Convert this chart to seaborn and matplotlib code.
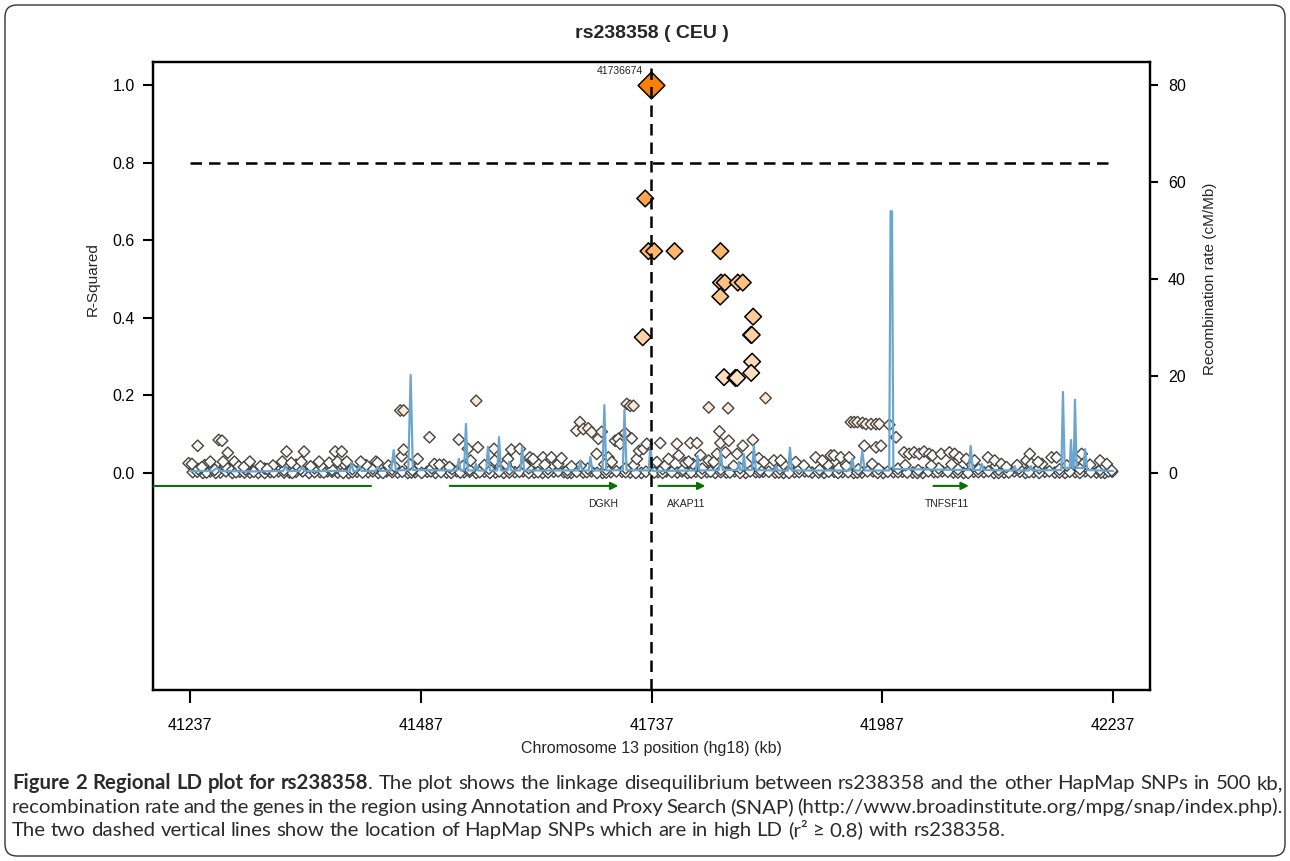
import matplotlib
matplotlib.use("Agg")
import matplotlib.pyplot as plt
import seaborn as sns
from matplotlib.colors import LinearSegmentedColormap
from matplotlib.patches import FancyBboxPatch

# ----------------------------- #
#  Data
# ----------------------------- #
lead_snp = "41736674"
lead_pos = 41736.674
lead_r2 = 1.0

# SNPs in LD with the lead SNP (r2 >= 0.2)
ld_pos = [41730.2, 41733.7, 41739.9, 41762.0, 41811.7, 41812.3, 41816.4, 41830.5,
          41835.9, 41811.5, 41847.1, 41844.8, 41845.6, 41727.5, 41846.0, 41845.0,
          41815.6, 41827.9, 41829.7]
ld_r2 = [0.708, 0.572, 0.572, 0.572, 0.572, 0.491, 0.491, 0.491,
         0.491, 0.455, 0.403, 0.356, 0.356, 0.350, 0.287, 0.258,
         0.247, 0.245, 0.245]

# scattered low-LD SNPs
snp_pos = [41235.6, 41239.2, 41245.4, 41250.0, 41259.1, 41268.2, 41271.8, 41272.9, 41278.0, 41285.2,
           41289.9, 41295.4, 41301.9, 41313.4, 41320.7, 41337.0, 41341.7, 41346.8, 41357.7, 41360.6,
           41367.8, 41376.9, 41387.8, 41394.3, 41396.8, 41401.5, 41406.9, 41422.1, 41438.4, 41440.3,
           41458.4,
           41464.9, 41468.5, 41466.4, 41468.5, 41483.7, 41496.5, 41501.9, 41507.3, 41518.2, 41528.3,
           41538.1, 41541.0, 41547.1, 41549.0, 41566.4, 41567.1, 41581.6, 41585.2, 41594.3, 41605.2,
           41608.7, 41619.6, 41621.5, 41628.6, 41635.9, 41639.5, 41650.4, 41655.8, 41659.5, 41663.1,
           41668.5, 41672.1, 41677.6, 41679.4, 41683.0, 41690.3, 41693.9, 41697.6, 41701.1, 41703.0,
           41708.4, 41710.2, 41713.9, 41717.5, 41715.6, 41721.1, 41723.6, 41728.3, 41731.9,
           41742.8, 41746.5, 41755.5, 41764.5, 41766.4, 41773.7, 41777.2, 41779.1, 41786.3, 41790.0,
           41799.0, 41799.0, 41804.4, 41808.0, 41810.6, 41811.7, 41817.1, 41820.0, 41820.7, 41829.7,
           41835.9, 41846.0, 41846.8, 41853.3, 41858.8, 41860.6, 41869.6, 41876.9, 41893.2, 41914.9,
           41922.1, 41931.3, 41934.8, 41942.1, 41951.1, 41953.0, 41956.6, 41960.2, 41965.6, 41967.5,
           41969.3, 41974.8, 41980.2, 41980.2, 41983.8, 41985.6, 41994.6, 42001.9,
           42010.6, 42016.0, 42021.5, 42026.9, 42032.3, 42037.8, 42041.4, 42050.8, 42059.8, 42065.3,
           42070.7, 42078.0, 42087.0, 42101.5, 42108.8, 42116.0, 42121.5, 42143.2, 42146.8, 42148.7,
           42155.8, 42170.4, 42175.8, 42199.3, 42203.0, 42222.9, 42230.2, 42235.6]
snp_r2 = [0.025, 0.023, 0.070, 0.015, 0.029, 0.085, 0.083, 0.029, 0.052, 0.029,
          0.017, 0.015, 0.029, 0.017, 0.010, 0.029, 0.055, 0.026, 0.029, 0.055,
          0.017, 0.029, 0.026, 0.055, 0.029, 0.055, 0.029, 0.029, 0.029, 0.026,
          0.017,
          0.161, 0.161, 0.043, 0.060, 0.036, 0.092, 0.023, 0.021, 0.015, 0.086,
          0.062, 0.032, 0.186, 0.066, 0.062, 0.032, 0.036, 0.060, 0.062, 0.040,
          0.036, 0.040, 0.021, 0.040, 0.023, 0.038, 0.017, 0.109, 0.131, 0.113,
          0.115, 0.105, 0.049, 0.088, 0.106, 0.040, 0.028, 0.083, 0.088, 0.075,
          0.103, 0.178, 0.173, 0.173, 0.089, 0.036, 0.057, 0.062, 0.075,
          0.028, 0.077, 0.036, 0.075, 0.045, 0.026, 0.029, 0.077, 0.077, 0.046,
          0.169, 0.032, 0.028, 0.049, 0.107, 0.077, 0.053, 0.167, 0.083, 0.049,
          0.070, 0.040, 0.085, 0.038, 0.028, 0.193, 0.032, 0.032, 0.028, 0.040,
          0.032, 0.045, 0.045, 0.040, 0.040, 0.131, 0.131, 0.131, 0.129, 0.070,
          0.126, 0.126, 0.126, 0.066, 0.126, 0.070, 0.124, 0.092,
          0.053, 0.049, 0.053, 0.049, 0.055, 0.049, 0.045, 0.049, 0.053, 0.049,
          0.040, 0.036, 0.032, 0.040, 0.032, 0.023, 0.015, 0.032, 0.049, 0.023,
          0.028, 0.040, 0.040, 0.040, 0.049, 0.032, 0.023, 0.006]

# dense rows of SNPs close to r2 = 0
base_pos = [41240, 41251, 41259, 41270, 41283, 41291, 41302, 41311, 41324, 41333,
            41345, 41352, 41366, 41378, 41386, 41397, 41409, 41418, 41430, 41441,
            41450, 41462, 41473, 41481, 41494, 41503, 41515, 41526, 41534, 41547,
            41556, 41568, 41577, 41589, 41598, 41610, 41619, 41631, 41642, 41650,
            41663, 41672, 41684, 41693, 41705, 41714, 41726, 41744, 41753, 41765,
            41776, 41785, 41797, 41806, 41818, 41827, 41839, 41850, 41858, 41871,
            41880, 41892, 41903, 41911, 41924, 41935, 41944, 41956, 41965, 41977,
            41988, 41999, 42009, 42020, 42031, 42043, 42052, 42064, 42075, 42086,
            42097, 42108, 42119, 42130, 42142, 42151, 42163, 42174, 42185, 42196,
            42207, 42219, 42228, 42236]
base_r2 = [0.002, 0.000, 0.004, 0.001, 0.000, 0.003, 0.001, 0.000, 0.002, 0.004,
           0.001, 0.003, 0.000, 0.002, 0.004, 0.001, 0.000, 0.003, 0.002, 0.000,
           0.004, 0.001, 0.000, 0.002, 0.003, 0.000, 0.001, 0.004, 0.002, 0.000,
           0.003, 0.001, 0.000, 0.002, 0.004, 0.001, 0.000, 0.003, 0.002, 0.000,
           0.001, 0.004, 0.000, 0.002, 0.003, 0.001, 0.000, 0.002, 0.004, 0.001,
           0.000, 0.003, 0.002, 0.000, 0.001, 0.004, 0.000, 0.002, 0.003, 0.001,
           0.000, 0.002, 0.004, 0.001, 0.000, 0.003, 0.002, 0.000, 0.001, 0.004,
           0.000, 0.002, 0.003, 0.001, 0.000, 0.002, 0.004, 0.001, 0.000, 0.003,
           0.002, 0.000, 0.001, 0.004, 0.000, 0.002, 0.003, 0.001, 0.000, 0.002,
           0.004, 0.001, 0.000, 0.003]
base2_pos = [41245, 41255, 41265, 41276, 41287, 41296, 41306, 41318, 41328, 41339,
             41348, 41359, 41372, 41382, 41391, 41403, 41413, 41424, 41435, 41446,
             41456, 41467, 41477, 41488, 41498, 41509, 41520, 41530, 41540, 41551,
             41562, 41572, 41583, 41594, 41604, 41614, 41625, 41636, 41646, 41656,
             41667, 41678, 41688, 41699, 41709, 41720, 41731, 41740, 41749, 41759,
             41770, 41780, 41791, 41801, 41812, 41822, 41833, 41844, 41854, 41864,
             41875, 41886, 41897, 41907, 41918, 41929, 41939, 41950, 41960, 41971,
             41982, 41993, 42004, 42014, 42025, 42037, 42047, 42058, 42069, 42080,
             42091, 42102, 42113, 42124, 42136, 42146, 42157, 42168, 42179, 42190,
             42201, 42213, 42224, 42232]
base2_r2 = [0.003, 0.001, 0.000, 0.004, 0.002, 0.001, 0.003, 0.000, 0.002, 0.001,
            0.000, 0.004, 0.002, 0.001, 0.003, 0.000, 0.002, 0.001, 0.004, 0.000,
            0.002, 0.003, 0.001, 0.000, 0.004, 0.002, 0.000, 0.001, 0.003, 0.002,
            0.000, 0.004, 0.001, 0.003, 0.000, 0.002, 0.001, 0.004, 0.000, 0.003,
            0.002, 0.000, 0.001, 0.004, 0.002, 0.000, 0.003, 0.001, 0.000, 0.002,
            0.004, 0.001, 0.000, 0.003, 0.002, 0.001, 0.000, 0.004, 0.002, 0.003,
            0.001, 0.000, 0.002, 0.004, 0.001, 0.003, 0.000, 0.002, 0.001, 0.004,
            0.000, 0.003, 0.002, 0.001, 0.000, 0.004, 0.002, 0.003, 0.001, 0.000,
            0.002, 0.004, 0.000, 0.001, 0.003, 0.002, 0.000, 0.004, 0.001, 0.003,
            0.000, 0.002, 0.001, 0.004]
low_pos = [41246, 41264, 41279, 41297, 41318, 41339, 41357, 41372, 41391, 41413,
           41435, 41456, 41478, 41499, 41521, 41540, 41561, 41583, 41604, 41625,
           41646, 41668, 41688, 41709, 41749, 41771, 41792, 41812, 41833, 41855,
           41876, 41897, 41919, 41940, 41961, 41983, 42004, 42026, 42048, 42069,
           42091, 42113, 42135, 42157, 42179, 42201, 42223]
low_r2 = [0.010, 0.008, 0.012, 0.009, 0.011, 0.007, 0.010, 0.012, 0.008, 0.010,
          0.011, 0.009, 0.007, 0.012, 0.010, 0.008, 0.011, 0.009, 0.012, 0.010,
          0.007, 0.011, 0.009, 0.012, 0.010, 0.008, 0.011, 0.009, 0.012, 0.007,
          0.010, 0.011, 0.008, 0.012, 0.009, 0.010, 0.011, 0.007, 0.012, 0.009,
          0.010, 0.008, 0.011, 0.012, 0.009, 0.010, 0.008]
mid_pos = [41253, 41275, 41300, 41327, 41352, 41379, 41404, 41428, 41452, 41475,
           41512, 41533, 41556, 41579, 41600, 41630, 41660, 41686, 41718, 41752,
           41782, 41806, 41826, 41851, 41880, 41902, 41928, 41948, 41976, 42012,
           42040, 42062, 42084, 42110, 42133, 42160, 42187, 42212, 42227]
mid_r2 = [0.020, 0.018, 0.022, 0.019, 0.021, 0.018, 0.023, 0.020, 0.019, 0.022,
          0.021, 0.018, 0.020, 0.023, 0.019, 0.021, 0.018, 0.022, 0.020, 0.019,
          0.023, 0.021, 0.018, 0.020, 0.022, 0.019, 0.021, 0.018, 0.023, 0.020,
          0.019, 0.022, 0.021, 0.018, 0.020, 0.023, 0.019, 0.021, 0.020]

# recombination rate (cM/Mb)
rec_pos = [41237, 41262, 41266, 41270, 41300, 41338, 41340.3, 41343, 41356, 41358.7,
           41361, 41410, 41412, 41414, 41418, 41420.7, 41423, 41438, 41440.3, 41443,
           41455, 41457.7, 41460, 41473.5, 41476.1, 41478.5, 41526, 41528.3, 41530, 41534,
           41536, 41538, 41545, 41546.8, 41549, 41558, 41559.8, 41562, 41570, 41571.8,
           41574, 41581, 41582.7, 41585, 41595, 41596.8, 41599, 41658, 41659.8, 41662,
           41669, 41670.7, 41673, 41684, 41685.9, 41688, 41706, 41707.7, 41710, 41734,
           41735.9, 41738, 41785, 41787, 41789, 41810, 41812, 41814, 41830, 41831.6,
           41833, 41835.5, 41837, 41839, 41846, 41847.9, 41850, 41870, 41871.8, 41874,
           41885, 41887, 41889, 41952, 41954.4, 41957, 41963, 41965.3, 41968, 41994.5,
           41996, 41997.5, 41999, 42081, 42082.7, 42085, 42093, 42094.6, 42097, 42129,
           42130.5, 42132, 42146, 42147.9, 42150, 42181, 42182.7, 42184.5, 42190, 42191.4,
           42193, 42194.4, 42195.7, 42197.5, 42205, 42206.7, 42209, 42237]
rec_rate = [0.4, 0.4, 1.0, 0.4, 0.3, 0.4, 1.4, 0.4, 0.4, 1.2,
            0.4, 0.4, 2.1, 0.4, 0.4, 1.4, 0.4, 0.4, 1.2, 0.4,
            0.5, 4.7, 0.5, 0.6, 20.2, 0.6, 0.5, 2.9, 0.5, 0.5,
            10.1, 0.5, 0.5, 1.9, 0.5, 0.5, 5.4, 0.5, 0.5, 7.4,
            0.5, 0.5, 2.3, 0.5, 0.5, 5.4, 0.5, 0.5, 2.5, 0.5,
            0.5, 3.3, 0.5, 0.5, 14.0, 0.5, 0.6, 13.0, 0.6, 0.5,
            6.0, 0.4, 0.5, 3.5, 0.5, 0.6, 4.5, 0.6, 0.6, 2.3,
            0.6, 0.6, 3.9, 0.6, 0.6, 5.6, 0.6, 0.5, 1.4, 0.5,
            0.5, 5.2, 0.5, 0.5, 2.9, 0.5, 0.5, 4.5, 0.5, 0.5,
            54.0, 54.0, 0.8, 0.6, 5.6, 0.6, 0.6, 1.9, 0.6, 0.5,
            1.4, 0.5, 0.5, 1.4, 0.5, 0.6, 16.7, 1.0, 1.0, 6.8,
            1.0, 1.0, 15.1, 1.0, 1.0, 4.9, 0.6, 0.4]

# genes: name, start, end (kb); None = no label / arrow
gene_names = [None, "DGKH", "AKAP11", "TNFSF11"]
gene_start = [41150.0, 41518.5, 41744.6, 42042.4]
gene_end = [41432.7, 41701.1, 41795.4, 42080.8]

x_ticks = [41237, 41487, 41737, 41987, 42237]
r2_ticks = [0.0, 0.2, 0.4, 0.6, 0.8, 1.0]
rate_ticks = [0, 20, 40, 60, 80]

caption_bold = "Figure 2 Regional LD plot for rs238358"
caption_lines = [
    "Figure 2 Regional LD plot for rs238358. The plot shows the linkage disequilibrium between "
    "rs238358 and the other HapMap SNPs in 500 kb,",
    "recombination rate and the genes in the region using Annotation and Proxy Search (SNAP) "
    "(http://www.broadinstitute.org/mpg/snap/index.php).",
    "The two dashed vertical lines show the location of HapMap SNPs which are in high LD "
    "(r\u00b2 \u2265 0.8) with rs238358.",
]

# ----------------------------- #
#  Style
# ----------------------------- #
sns.set_style("ticks")
plt.rcParams["font.family"] = ["Liberation Sans", "DejaVu Sans"]

ld_cmap = LinearSegmentedColormap.from_list("ld", ["#FFFFFF", "#FF7F00"])
W, H = 1290, 861
fig = plt.figure(figsize=(W / 100, H / 100), dpi=100)

ax = fig.add_axes([153 / W, 1 - 690 / H, 997 / W, 628 / H])
ax_rec = ax.twinx()
ax_top = ax.twinx()

# ----------------------------- #
#  Low LD SNPs (bottom layer)
# ----------------------------- #
bg_pos = base_pos + base2_pos + low_pos + mid_pos + snp_pos
bg_r2 = base_r2 + base2_r2 + low_r2 + mid_r2 + snp_r2
sns.scatterplot(x=bg_pos, y=bg_r2, hue=bg_r2, palette=ld_cmap, hue_norm=(0, 1),
                marker="D", s=34, edgecolor="#444444", linewidth=1.0,
                legend=False, ax=ax)

# ----------------------------- #
#  Recombination rate
# ----------------------------- #
sns.lineplot(x=rec_pos, y=rec_rate, color="#6CA6D0", linewidth=1.6,
             estimator=None, sort=False, ax=ax_rec)

# ----------------------------- #
#  High LD SNPs + reference lines
# ----------------------------- #
sns.scatterplot(x=ld_pos, y=ld_r2, hue=ld_r2, palette=ld_cmap, hue_norm=(0, 1),
                marker="D", s=72, edgecolor="black", linewidth=1.1,
                legend=False, ax=ax_top)
sns.scatterplot(x=[lead_pos], y=[lead_r2], color="#FF7F00",
                marker="D", s=185, edgecolor="black", linewidth=1.1,
                legend=False, ax=ax_top)
ax_top.text(41727.2, 1.036, lead_snp, fontsize=7.5, ha="right", va="center", color="#222222")

ax_top.axvline(lead_pos, color="black", linewidth=1.8, dashes=(4.6, 2.8), zorder=5)
ax_top.hlines(0.8, x_ticks[0], x_ticks[-1], color="black", linewidth=1.8,
              linestyles=(0, (4.6, 2.8)), zorder=5)

# genes
gene_y = -0.0335
for name, g0, g1 in zip(gene_names, gene_start, gene_end):
    if name is None:
        ax_top.plot([g0, g1], [gene_y, gene_y], color="#0A6E0A", linewidth=1.5)
        continue
    ax_top.annotate("", xy=(g1, gene_y), xytext=(g0, gene_y),
                    arrowprops=dict(arrowstyle="-|>", color="#0A6E0A", lw=1.5,
                                    mutation_scale=11, shrinkA=0, shrinkB=0))
    ax_top.text(g1, -0.08, name, fontsize=7.5, ha="right", va="center", color="#222222")

# ----------------------------- #
#  Axes
# ----------------------------- #
xlim = (41197, 42277)
ylim = (-0.56, 1.06)
for a in (ax, ax_rec, ax_top):
    a.set_xlim(xlim)
ax.set_ylim(ylim)
ax_top.set_ylim(ylim)
ax_rec.set_ylim(ylim[0] * 80, ylim[1] * 80)
ax_top.axis("off")

ax.set_xticks(x_ticks)
ax.set_xticklabels([str(t) for t in x_ticks])
ax.set_yticks(r2_ticks)
ax.set_yticklabels([f"{t:.1f}" for t in r2_ticks])
ax_rec.set_yticks(rate_ticks)
ax_rec.set_yticklabels([str(t) for t in rate_ticks])

for a in (ax, ax_rec):
    for sp in a.spines.values():
        sp.set_color("black")
        sp.set_linewidth(1.6)
ax.tick_params(axis="x", length=9, width=1.5, pad=11, labelsize=11.5, colors="black")
ax.tick_params(axis="y", length=7, width=1.5, pad=6, labelsize=11.5, colors="black")
ax_rec.tick_params(axis="y", length=6, width=1.5, pad=7, labelsize=11.5, colors="black")

ax.set_xlabel("Chromosome 13 position (hg18) (kb)", fontsize=11.5)
ax.xaxis.set_label_coords(0.5, -0.082)
ax.set_ylabel("R-Squared", fontsize=11)
ax.yaxis.set_label_coords(-0.053, (0.5 - ylim[0]) / (ylim[1] - ylim[0]))
ax_rec.set_ylabel("Recombination rate (cM/Mb)", fontsize=11)
ax_rec.yaxis.set_label_coords(1.053, (0.5 - ylim[0]) / (ylim[1] - ylim[0]))

fig.text(651.5 / W, 1 - 34 / H, "rs238358 ( CEU )", fontsize=14, fontweight="bold",
         ha="center", va="center")

# ----------------------------- #
#  Caption (justified)
# ----------------------------- #
cap_font = ["Lato", "DejaVu Sans"]
cap_color = "#2b2b2b"
cap_x0, cap_x1 = 12, 1283
cap_base = [789, 813, 836]
renderer = fig.canvas.get_renderer()


def build_line(text, bold_len, size):
    words, pos = [], 0
    for w in text.split(" "):
        start = pos
        cut = min(max(bold_len - start, 0), len(w))
        frags = []
        if cut > 0:
            frags.append((w[:cut], True))
        if cut < len(w):
            frags.append((w[cut:], False))
        words.append(frags)
        pos = start + len(w) + 1
    out = []
    for frags in words:
        items = []
        for txt, bold in frags:
            t = fig.text(0, 0, txt, fontsize=size, family=cap_font, color=cap_color,
                         fontweight="bold" if bold else "normal", va="baseline")
            items.append((t, t.get_window_extent(renderer).width))
        out.append(items)
    return out


# pick a size so the first line fills the width with ordinary word spacing
probe_size = 12.0
probe = build_line(caption_lines[0], len(caption_bold), probe_size)
natural = sum(w for it in probe for _, w in it) + (len(probe) - 1) * probe_size * 100 / 72 * 0.25
for it in probe:
    for t, _ in it:
        t.remove()
cap_size = probe_size * (cap_x1 - cap_x0) / natural * 0.99

for li, (line, yb) in enumerate(zip(caption_lines, cap_base)):
    words = build_line(line, len(caption_bold) if li == 0 else 0, cap_size)
    widths = [sum(w for _, w in it) for it in words]
    space = cap_size * 100 / 72 * 0.25
    if li < len(caption_lines) - 1:
        gap = (cap_x1 - cap_x0 - sum(widths)) / (len(words) - 1)
    else:
        gap = space
    x = cap_x0
    for items, w in zip(words, widths):
        for t, fw in items:
            t.set_position((x / W, 1 - yb / H))
            x += fw
        x += gap

# figure frame
fig.patches.append(FancyBboxPatch((0.05, 0.05), W / 100 - 0.1, H / 100 - 0.1,
                                  boxstyle="round,pad=0,rounding_size=0.12",
                                  transform=fig.dpi_scale_trans, fill=False,
                                  edgecolor="#333333", linewidth=1.0))

fig.savefig("out.png", dpi=100)
